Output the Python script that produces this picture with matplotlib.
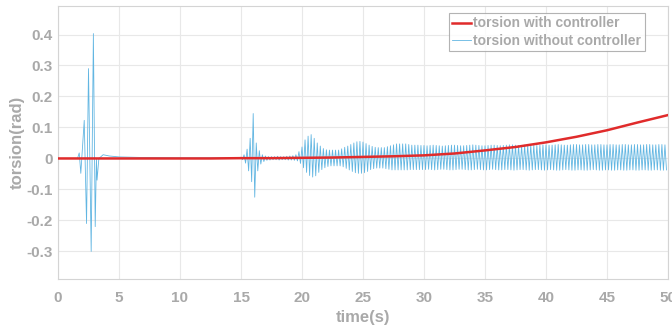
import numpy as np
import matplotlib
matplotlib.use("Agg")
import matplotlib.pyplot as plt

# ── Data ─────────────────────────────────────────────────────────────────────

# red: torsion with controller
ctrl_t = [0, 2.5, 5, 7.5, 10, 12.5, 15, 17.5, 20, 22.5, 25, 27.5, 30,
          32.5, 35, 37.5, 40, 42.5, 45, 47.5, 50]
ctrl_v = [0, 0, 0, 0, 0, 0, 0.001, 0.001, 0.002, 0.003, 0.005, 0.007, 0.010,
          0.016, 0.026, 0.037, 0.052, 0.070, 0.091, 0.116, 0.140]

# blue: torsion without controller, first burst (t < 15)
burst_t = [0, 1.6, 1.74, 1.87, 2.15, 2.34, 2.5, 2.72, 2.9, 3.05, 3.15, 3.2,
           3.35, 3.7, 4.2, 5.0, 7.0, 10.0, 14.8]
burst_v = [0, 0, 0.018, -0.048, 0.123, -0.21, 0.29, -0.30, 0.403, -0.22, 0.0,
           -0.07, 0.0, 0.012, 0.008, 0.005, 0.003, 0.002, 0.002]

# blue: oscillation peaks from t = 15 s, one swing every 0.25 s
osc_upper = [
    0.004, 0.012, 0.030, 0.065, 0.145, 0.050, 0.025, 0.012, 0.008, 0.006,
    0.006, 0.006, 0.007, 0.006, 0.006, 0.007, 0.008, 0.009, 0.012, 0.022,
    0.037, 0.060, 0.072, 0.077, 0.065, 0.050, 0.040, 0.032, 0.028, 0.027,
    0.027, 0.027, 0.027, 0.031, 0.036, 0.040, 0.045, 0.050, 0.054, 0.055,
    0.053, 0.048, 0.043, 0.039, 0.036, 0.035, 0.035, 0.035, 0.038, 0.041,
    0.044, 0.047, 0.047, 0.047, 0.047, 0.045, 0.043, 0.043, 0.043, 0.042,
    0.042, 0.041, 0.042, 0.043, 0.042, 0.041, 0.040, 0.041, 0.042, 0.043,
    0.043, 0.042, 0.041, 0.041, 0.042, 0.043, 0.044, 0.043, 0.042, 0.041,
    0.041, 0.042, 0.043, 0.043, 0.042, 0.041, 0.042, 0.043, 0.044, 0.044,
    0.043, 0.042, 0.042, 0.043, 0.044, 0.044, 0.043, 0.042, 0.043, 0.044,
    0.044, 0.043, 0.043, 0.044, 0.045, 0.044, 0.043, 0.043, 0.044, 0.045,
    0.045, 0.044, 0.044, 0.045, 0.045, 0.044, 0.044, 0.045, 0.045, 0.044,
    0.044, 0.045, 0.045, 0.044, 0.044, 0.045, 0.045, 0.044, 0.044, 0.045,
    0.045, 0.044, 0.044, 0.045, 0.045, 0.044, 0.044, 0.045, 0.045, 0.044,
]
osc_lower = [
    -0.004, -0.015, -0.040, -0.075, -0.125, -0.040, -0.018, -0.010, -0.006, -0.005,
    -0.004, -0.004, -0.005, -0.004, -0.004, -0.005, -0.005, -0.006, -0.008, -0.016,
    -0.030, -0.045, -0.055, -0.060, -0.056, -0.045, -0.036, -0.030, -0.026, -0.024,
    -0.024, -0.024, -0.024, -0.027, -0.032, -0.037, -0.042, -0.046, -0.048, -0.048,
    -0.046, -0.042, -0.036, -0.033, -0.031, -0.031, -0.031, -0.033, -0.035, -0.037,
    -0.037, -0.037, -0.037, -0.037, -0.037, -0.036, -0.036, -0.036, -0.036, -0.036,
    -0.036, -0.035, -0.036, -0.037, -0.036, -0.035, -0.035, -0.036, -0.037, -0.037,
    -0.036, -0.035, -0.035, -0.036, -0.037, -0.037, -0.036, -0.035, -0.036, -0.037,
    -0.037, -0.036, -0.035, -0.036, -0.037, -0.037, -0.036, -0.036, -0.037, -0.038,
    -0.037, -0.036, -0.036, -0.037, -0.038, -0.037, -0.036, -0.036, -0.037, -0.038,
    -0.037, -0.036, -0.037, -0.038, -0.038, -0.037, -0.036, -0.037, -0.038, -0.038,
    -0.037, -0.037, -0.038, -0.038, -0.037, -0.036, -0.037, -0.038, -0.038, -0.037,
    -0.037, -0.038, -0.038, -0.037, -0.037, -0.038, -0.038, -0.037, -0.037, -0.038,
    -0.038, -0.037, -0.037, -0.038, -0.038, -0.037, -0.037, -0.038, -0.038, -0.037,
]
OSC_START, OSC_STEP = 15.0, 0.25

x_ticks = [0, 5, 10, 15, 20, 25, 30, 35, 40, 45, 50]
y_ticks = [-0.3, -0.2, -0.1, 0, 0.1, 0.2, 0.3, 0.4]
y_tick_labels = ["-0.3", "-0.2", "-0.1", "0", "0.1", "0.2", "0.3", "0.4"]

# ── Style ────────────────────────────────────────────────────────────────────

TEXT_GRAY = "#a9a9a9"
RED = "#e02b2b"
BLUE = "#62b6e2"

plt.rcParams["font.family"] = ["Liberation Sans", "DejaVu Sans"]


def main() -> None:
    # interleave swing peaks: up at t_k, down half a swing later
    t_k = OSC_START + OSC_STEP * np.arange(len(osc_upper))
    osc_t = np.column_stack([t_k, t_k + OSC_STEP / 2]).ravel()
    osc_v = np.column_stack([osc_upper, osc_lower]).ravel()
    free_t = np.concatenate([burst_t, osc_t])
    free_v = np.concatenate([burst_v, osc_v])

    fig = plt.figure(figsize=(6.72, 3.30), dpi=100)
    ax = fig.add_axes([58 / 672, 51 / 330, 610 / 672, 273 / 330])

    ax.plot(free_t, free_v, color=BLUE, lw=0.6,
            label="torsion without controller", zorder=2)
    ax.plot(ctrl_t, ctrl_v, color=RED, lw=1.8,
            label="torsion with controller", zorder=3)

    ax.set_xlim(0, 50)
    ax.set_ylim(-0.389, 0.492)
    ax.set_xticks(x_ticks)
    ax.set_yticks(y_ticks)
    ax.set_yticklabels(y_tick_labels)
    ax.tick_params(axis="both", length=0, labelsize=11, labelcolor=TEXT_GRAY)
    ax.tick_params(axis="x", pad=9)
    ax.tick_params(axis="y", pad=4)
    for lab in ax.get_xticklabels() + ax.get_yticklabels():
        lab.set_fontweight("bold")

    ax.grid(True, color="#e8e8e8", lw=0.8)
    ax.set_axisbelow(True)
    for sp in ax.spines.values():
        sp.set_color("#d4d4d4")
        sp.set_linewidth(0.8)

    ax.set_xlabel("time(s)", fontsize=12, fontweight="bold",
                  color=TEXT_GRAY, labelpad=3)
    ax.set_ylabel("torsion(rad)", fontsize=12, fontweight="bold",
                  color=TEXT_GRAY, labelpad=1)

    handles, labels = ax.get_legend_handles_labels()
    leg = ax.legend(handles[::-1], labels[::-1], loc="upper left",
                    bbox_to_anchor=(449 / 672, 1 - 13 / 330),
                    bbox_transform=fig.transFigure, borderaxespad=0,
                    frameon=True, fancybox=False,
                    handlelength=1.3, handletextpad=0.2, borderpad=0.25,
                    labelspacing=0.25, prop={"weight": "bold", "size": 10})
    leg.get_frame().set_edgecolor("#a0a0a0")
    leg.get_frame().set_linewidth(0.8)
    for txt in leg.get_texts():
        txt.set_color(TEXT_GRAY)

    fig.savefig("out.png", dpi=100)
    plt.close(fig)


if __name__ == "__main__":
    main()
